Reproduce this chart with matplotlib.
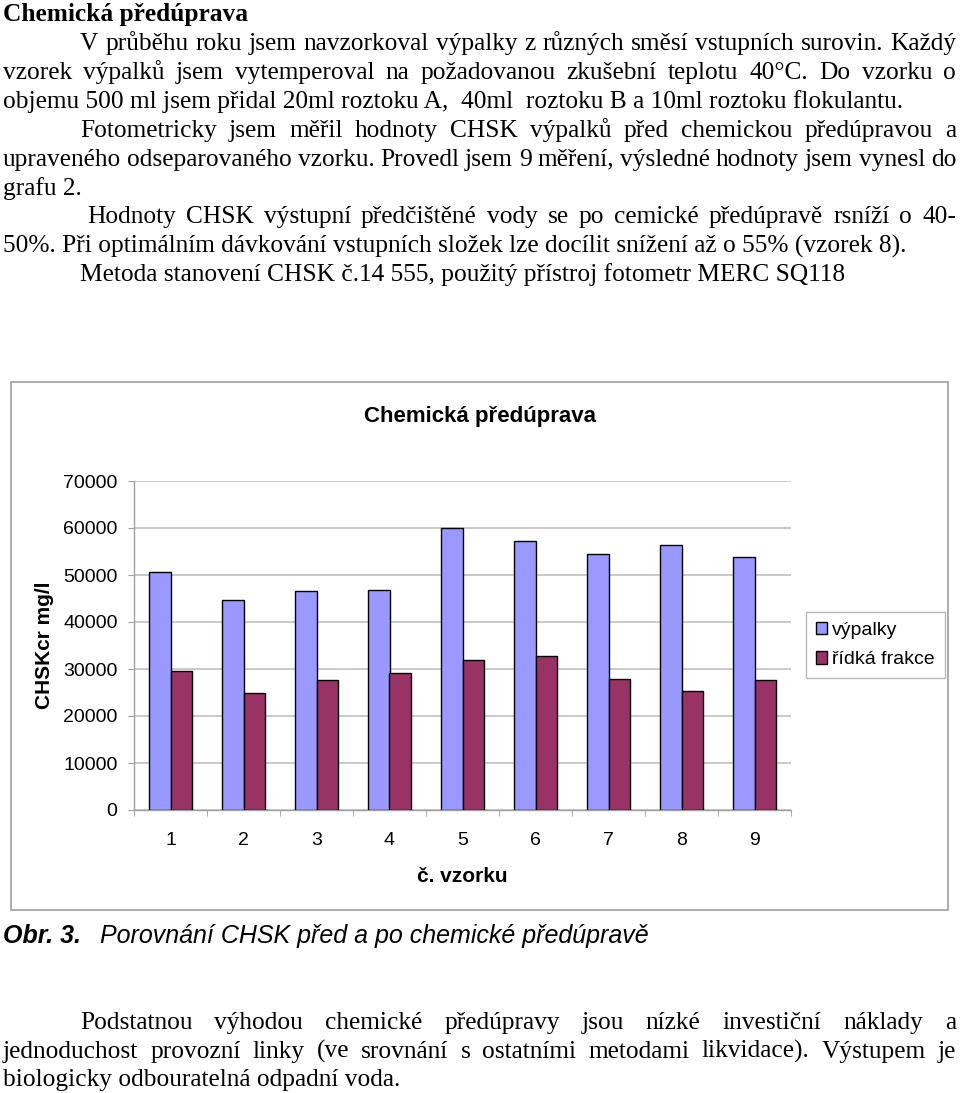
import matplotlib
matplotlib.use('Agg')
import matplotlib.pyplot as plt
import numpy as np
from matplotlib.transforms import IdentityTransform
from matplotlib.patches import Rectangle, Patch

# ---------------- data ----------------
samples = ['1', '2', '3', '4', '5', '6', '7', '8', '9']
vypalky = [50600, 44600, 46500, 46800, 60100, 57300, 54500, 56400, 53800]
ridka_frakce = [29500, 25000, 27600, 29200, 32000, 32700, 27900, 25400, 27600]
y_ticks = [0, 10000, 20000, 30000, 40000, 50000, 60000, 70000]
series_labels = ['výpalky', 'řídká frakce']
chart_title = 'Chemická předúprava'
x_label = 'č. vzorku'
y_label = 'CHSKcr mg/l'

heading = 'Chemická předúprava'
top_lines = [
    ('V průběhu roku jsem navzorkoval výpalky z různých směsí vstupních surovin. Každý', 80, True),
    ('vzorek výpalků jsem vytemperoval na požadovanou zkušební teplotu 40°C. Do vzorku o', 3, True),
    ('objemu 500 ml jsem přidal 20ml roztoku A,  40ml  roztoku B a 10ml roztoku flokulantu.', 3, False),
    ('Fotometricky jsem měřil hodnoty CHSK výpalků před chemickou předúpravou a', 80, True),
    ('upraveného odseparovaného vzorku. Provedl jsem 9 měření, výsledné hodnoty jsem vynesl do', 3, True),
    ('grafu 2.', 3, False),
    ('Hodnoty CHSK výstupní předčištěné vody  se po cemické předúpravě rsníží o 40-', 87, True),
    ('50%. Při optimálním dávkování vstupních složek lze docílit snížení až o 55% (vzorek 8).', 3, False),
    ('Metoda stanovení CHSK č.14 555, použitý přístroj fotometr MERC SQ118', 80, False),
]
bottom_lines = [
    ('Podstatnou výhodou chemické předúpravy jsou nízké investiční náklady a', 80, True),
    ('jednoduchost provozní linky (ve srovnání s ostatními metodami likvidace).  Výstupem je', 3, True),
    ('biologicky odbouratelná odpadní voda.', 3, False),
]
caption_bold = 'Obr. 3.'
caption_rest = 'Porovnání CHSK před a po chemické předúpravě'

# ---------------- figure ----------------
W, H = 960, 1093
fig = plt.figure(figsize=(W / 100, H / 100), dpi=100)
renderer = fig.canvas.get_renderer()
ID = IdentityTransform()
SERIF = 'Liberation Serif'
SANS = 'Liberation Sans'


def ptext(x, y, s, **kw):
    return fig.text(x, H - y, s, transform=ID, **kw)


def width_of(s, **kw):
    t = ptext(0, 0, s, **kw)
    w = t.get_window_extent(renderer).width
    t.remove()
    return w


# body font size fitted to the non-justified line width
fs = 20 * 900 / width_of(top_lines[2][0], fontsize=20, family=SERIF)
RIGHT = 956


def draw_line(s, x0, y, justify):
    if not justify:
        ptext(x0, y, s, fontsize=fs, family=SERIF, va='baseline', ha='left')
        return
    words = s.split()
    ws = [width_of(w, fontsize=fs, family=SERIF) for w in words]
    gap = (RIGHT - x0 - sum(ws)) / (len(words) - 1)
    x = x0
    for w, wd in zip(words, ws):
        ptext(x, y, w, fontsize=fs, family=SERIF, va='baseline', ha='left')
        x += wd + gap


ptext(3, 21, heading, fontsize=fs, family=SERIF, weight='bold', va='baseline')
base = 50
for i, (s, x0, j) in enumerate(top_lines):
    draw_line(s, x0, base + i * 28.9, j)

for i, (s, x0, j) in enumerate(bottom_lines):
    draw_line(s, x0, 1029 + i * 28.6, j)

# caption
cfs = 18
ptext(3, 943, caption_bold, fontsize=cfs, family=SANS, weight='bold', style='italic', va='baseline')
ptext(100, 943, caption_rest, fontsize=cfs, family=SANS, style='italic', va='baseline')

# chart frame
fig.patches.append(Rectangle((11, H - 910), 937, 528, transform=ID, fill=False,
                             edgecolor='#a6a6a6', lw=1.3))

# ---------------- chart ----------------
ax = fig.add_axes([134 / W, 1 - 810 / H, 657 / W, 329 / H])
x = np.arange(1, len(samples) + 1)
bw = 0.29
ax.bar(x - bw / 2, vypalky, bw, color='#9999FF', edgecolor='black', lw=1.0, zorder=3)
ax.bar(x + bw / 2, ridka_frakce, bw, color='#993366', edgecolor='black', lw=1.0, zorder=3)
ax.set_xlim(0.5, len(samples) + 0.5)
ax.set_ylim(0, 70000)
ax.set_yticks(y_ticks)
ax.set_yticklabels([str(v) for v in y_ticks], family=SANS, fontsize=14)
ax.set_xticks(x)
ax.set_xticklabels(samples, family=SANS, fontsize=14)
ax.set_xticks(np.arange(0.5, len(samples) + 1, 1), minor=True)
ax.yaxis.grid(True, color='#c0c0c0', lw=1.2)
ax.set_axisbelow(True)
for sp in ['top', 'right']:
    ax.spines[sp].set_visible(False)
for sp in ['left', 'bottom']:
    ax.spines[sp].set_color('#a0a0a0')
    ax.spines[sp].set_linewidth(1.0)
ax.tick_params(axis='y', length=4.3, color='#a0a0a0', pad=7.5)
ax.tick_params(axis='x', which='major', length=0, pad=16)
ax.tick_params(axis='x', which='minor', length=4.3, color='#a0a0a0')

ptext(480, 422, chart_title, fontsize=16, family=SANS, weight='bold', ha='center', va='baseline')
ptext(462, 877, x_label, fontsize=15, family=SANS, weight='bold', ha='center', va='center')
ptext(44, 645, y_label, fontsize=15, family=SANS, weight='bold', ha='center', va='center',
      rotation=90)

handles = [Patch(facecolor='#9999FF', edgecolor='black', lw=1.0),
           Patch(facecolor='#993366', edgecolor='black', lw=1.0)]
leg = fig.legend(handles, series_labels, loc='upper left',
                 bbox_to_anchor=(806 / W, 1 - 612 / H), frameon=True, fancybox=False,
                 edgecolor='#a6a6a6', prop={'family': SANS, 'size': 14},
                 handlelength=0.6, handleheight=0.6, handletextpad=0.25,
                 borderpad=0.5, labelspacing=0.65, borderaxespad=0)
leg.get_frame().set_linewidth(1.0)

fig.savefig('out.png', dpi=100)
